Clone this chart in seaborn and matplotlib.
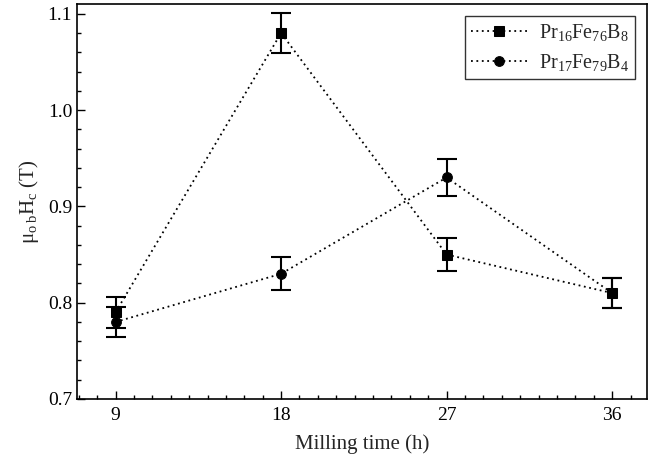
"""Coercivity vs milling time for two Pr-Fe-B alloys."""

import matplotlib
matplotlib.use("Agg")
import matplotlib.pyplot as plt
import pandas as pd
import seaborn as sns
from matplotlib.ticker import MultipleLocator

milling_time = [9, 18, 27, 36]
hc_pr16 = [0.79, 1.08, 0.85, 0.81]
err_pr16 = [0.016, 0.021, 0.017, 0.016]
hc_pr17 = [0.78, 0.83, 0.93, 0.81]
err_pr17 = [0.016, 0.017, 0.019, 0.016]
labels = [r"Pr$_{16}$Fe$_{76}$B$_8$", r"Pr$_{17}$Fe$_{79}$B$_4$"]

sns.set_theme(style="ticks")
plt.rcParams["font.family"] = ["Liberation Serif", "DejaVu Serif"]
plt.rcParams["mathtext.fontset"] = "custom"
plt.rcParams["mathtext.rm"] = "Liberation Serif"
plt.rcParams["mathtext.it"] = "Liberation Serif:italic"
plt.rcParams["mathtext.bf"] = "Liberation Serif:bold"

df = pd.concat(
    [
        pd.DataFrame({"time": milling_time, "hc": hc_pr16, "err": err_pr16, "alloy": labels[0]}),
        pd.DataFrame({"time": milling_time, "hc": hc_pr17, "err": err_pr17, "alloy": labels[1]}),
    ],
    ignore_index=True,
)

fig = plt.figure(figsize=(6.49, 4.61), dpi=100)
ax = fig.add_axes([0.1186, 0.1345, 0.8784, 0.8565])

for alloy, marker in zip(labels, ["s", "o"]):
    sub = df[df["alloy"] == alloy]
    sns.lineplot(
        data=sub, x="time", y="hc", ax=ax, color="black", linestyle=(0, (1, 2)),
        linewidth=1.3, marker=marker, markersize=7, markeredgecolor="black",
        label=alloy,
    )
    ax.errorbar(
        sub["time"], sub["hc"], yerr=sub["err"], fmt="none", ecolor="black",
        elinewidth=1.5, capsize=7, capthick=1.5, zorder=3,
    )

ax.set_xlim(6.9, 37.9)
ax.set_ylim(0.7, 1.11)
ax.xaxis.set_major_locator(MultipleLocator(9))
ax.xaxis.set_minor_locator(MultipleLocator(1))
ax.yaxis.set_major_locator(MultipleLocator(0.1))
ax.yaxis.set_minor_locator(MultipleLocator(0.02))
ax.tick_params(which="both", direction="in", top=False, right=False,
               labelsize=14, width=1.0, colors="black")
ax.tick_params(which="major", length=6)
ax.tick_params(which="minor", length=3)
ax.tick_params(axis="x", pad=6)
for s in ax.spines.values():
    s.set_linewidth(1.2)
    s.set_color("black")

ax.set_xlabel("Milling time (h)", fontsize=15, labelpad=7)
ax.set_ylabel(r"$\mathregular{\mu_{o\;b}H_c}$ (T)", fontsize=15, labelpad=5)

leg = ax.legend(
    loc="upper right", fontsize=14.5, frameon=True, fancybox=False,
    edgecolor="black", handlelength=2.75, borderaxespad=0.6,
    handletextpad=0.6, borderpad=0.3, labelspacing=0.45,
)
leg.get_frame().set_linewidth(1.0)

fig.savefig("out.png", dpi=100)
